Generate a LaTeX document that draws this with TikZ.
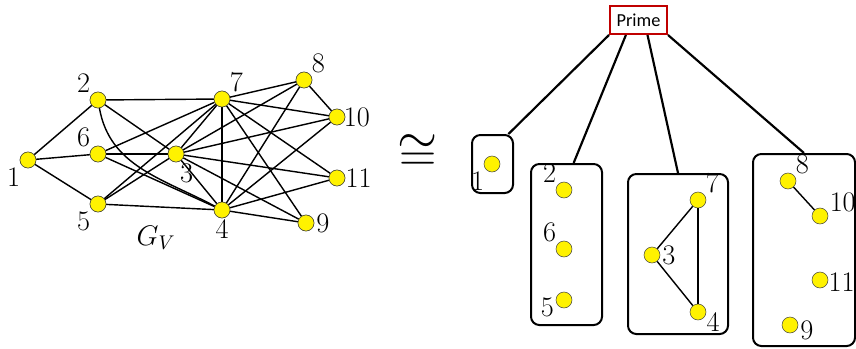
\documentclass[tikz,border=0pt]{standalone}
\usepackage{fix-cm}
\usepackage{fontspec}
\newfontfamily\primefont{Carlito}
\tikzset{
  vtx/.style={circle, fill=yellow, draw=black!75, line width=0.3pt, minimum size=9.6pt, inner sep=0pt},
  lbl/.style={font=\fontsize{17}{20}\selectfont, inner sep=1pt},
  edge/.style={line width=0.85pt},
  grp/.style={draw, line width=1.2pt, rounded corners=5pt, inner sep=0pt},
  link/.style={line width=1.3pt}
}

\begin{document}
\begin{tikzpicture}[x=0.6pt, y=-0.6pt]
    \useasboundingbox (0,0) rectangle (856,349);

    % The graph G_V
    \node[vtx, label={[lbl]below left:$1$}] (a1) at (28,160) {};
    \node[vtx, label={[lbl]above left:$2$}] (a2) at (98,100) {};
    \node[vtx, label={[lbl]above left:$6$}] (a6) at (98,154) {};
    \node[vtx, label={[lbl]below left:$5$}] (a5) at (98,204) {};
    \node[vtx, label={[lbl]-75:$3$}] (a3) at (176,154) {};
    \node[vtx, label={[lbl]above right:$7$}] (a7) at (222,99) {};
    \node[vtx, label={[lbl]below:$4$}] (a4) at (222,210) {};
    \node[vtx, label={[lbl]above right:$8$}] (a8) at (304,80) {};
    \node[vtx, label={[lbl, label distance=-2pt]right:$10$}] (a10) at (337,117) {};
    \node[vtx, label={[lbl, label distance=-1pt]right:$11$}] (a11) at (337,178) {};
    \node[vtx, label={[lbl]right:$9$}] (a9) at (306,223) {};
    \node[lbl] (gv) at (156,238) {$G_V$};

    % Edges of G_V
    \foreach \u/\v in {1/2, 1/6, 1/5, 2/7, 2/3, 6/3, 6/7, 6/4, 5/7, 5/3, 5/4,
                       3/7, 3/4, 3/8, 3/10, 3/11, 3/9, 7/4, 7/8, 7/10, 7/11, 7/9,
                       4/8, 4/10, 4/11, 4/9, 8/10}
        \draw[edge] (a\u) -- (a\v);
    \draw[edge] (a2) to[out=-80, in=152] (a4);

    % Redraw the vertices on top
    \foreach \n/\x/\y in {1/28/160, 2/98/100, 6/98/154, 5/98/204, 3/176/154, 7/222/99,
                          4/222/210, 8/304/80, 10/337/117, 11/337/178, 9/306/223}
        \node[vtx] at (\x,\y) {};

    % Isomorphism sign
    \node[font=\fontsize{31}{34}\selectfont, inner sep=0pt] (iso) at (418,153) {$\cong$};

    % Decomposition tree
    \node[draw={rgb,255:red,192;green,0;blue,0}, line width=1.2pt, minimum width=34.2pt,
          minimum height=16.8pt, inner sep=0pt, font=\primefont\fontsize{11}{12}\selectfont] (prime) at (638.5,20) {Prime};

    \node[grp, minimum width=24.6pt, minimum height=34.8pt] (m1) at (492.5,164) {};
    \node[grp, minimum width=42.6pt, minimum height=96.6pt] (m2) at (566.5,244.5) {};
    \node[grp, minimum width=60pt, minimum height=96pt] (m3) at (678,254) {};
    \node[grp, minimum width=61.2pt, minimum height=115.2pt] (m4) at (804,250) {};

    \draw[link] (prime.south west) -- (m1.62);
    \draw[link] (prime.230.6) -- (m2.85.4);
    \draw[link] (prime.301.3) -- (m3.north);
    \draw[link] (prime.south east) -- (m4.north);

    % Vertices in the modules
    \node[vtx, label={[lbl]below left:$1$}] (b1) at (492,164) {};
    \node[vtx, label={[lbl]above left:$2$}] (b2) at (564,190) {};
    \node[vtx, label={[lbl]above left:$6$}] (b6) at (564,249) {};
    \node[vtx, label={[lbl, yshift=-4.5pt]left:$5$}] (b5) at (564,300) {};
    \node[vtx, label={[lbl]above right:$7$}] (b7) at (698,200) {};
    \node[vtx, label={[lbl]right:$3$}] (b3) at (652,255) {};
    \node[vtx, label={[lbl, yshift=-6pt, label distance=-1pt]right:$4$}] (b4) at (698,312) {};
    \node[vtx, label={[lbl]above right:$8$}] (b8) at (788,181) {};
    \node[vtx, label={[lbl]20:$10$}] (b10) at (820,216) {};
    \node[vtx, label={[lbl, yshift=-1.5pt, label distance=-1pt]right:$11$}] (b11) at (820,280) {};
    \node[vtx, label={[lbl, yshift=-3pt]right:$9$}] (b9) at (790,325) {};

    \draw[edge] (b8) -- (b10);
    \draw[edge] (b7) -- (b3);
    \draw[edge] (b3) -- (b4);
    \draw[edge] (b7) -- (b4);

\end{tikzpicture}
\end{document}
